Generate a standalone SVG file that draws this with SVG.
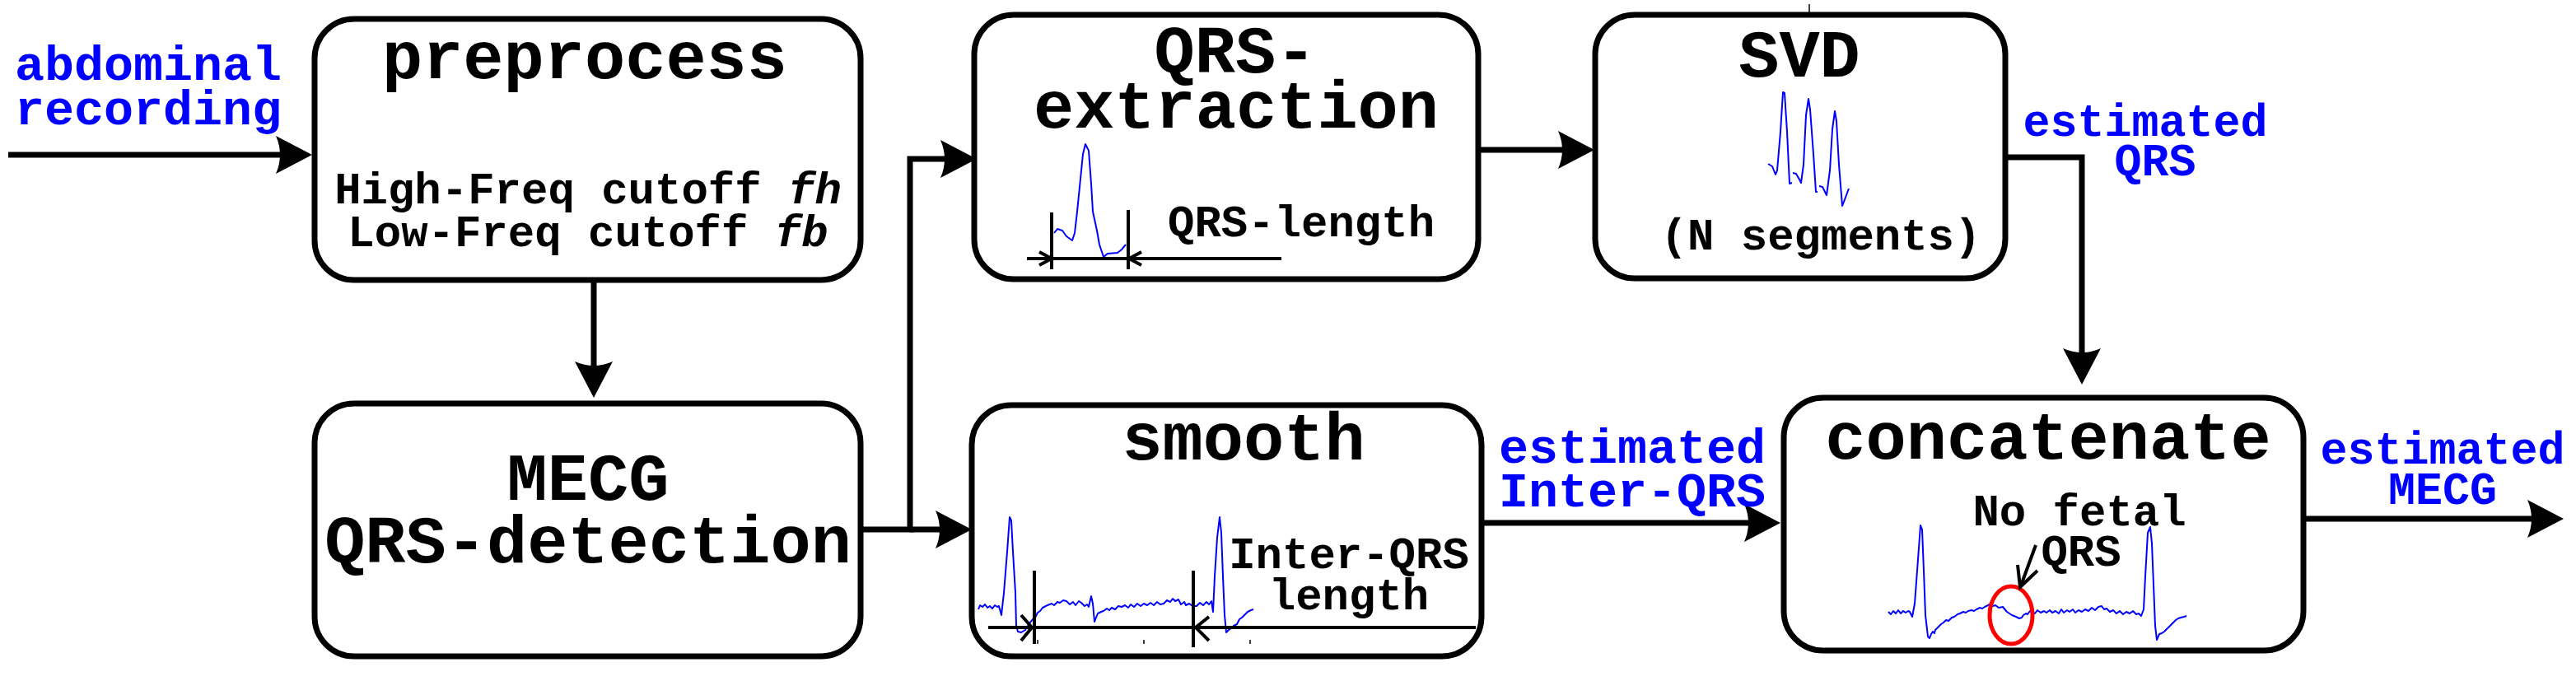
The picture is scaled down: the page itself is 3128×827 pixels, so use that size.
<svg xmlns="http://www.w3.org/2000/svg" width="3128" height="827" viewBox="0 0 3128 827">
<defs>
<style>
.box{fill:#fff;stroke:#000;stroke-width:7}
.con{fill:none;stroke:#000;stroke-width:7;stroke-linejoin:miter}
.title{font-family:"Liberation Mono","Courier New",monospace;font-weight:bold;font-size:82px;fill:#000;text-anchor:middle}
.sub{font-family:"Liberation Mono","Courier New",monospace;font-weight:bold;font-size:54px;fill:#000}
.lbl{font-family:"Liberation Mono","Courier New",monospace;font-weight:bold;fill:#0000ff;text-anchor:middle}
.wave{fill:none;stroke:#0000ff;stroke-width:2;stroke-linejoin:round}
.dim{fill:none;stroke:#000;stroke-width:4}
.tick{fill:none;stroke:#000;stroke-width:1.5}
</style>
<marker id="ah" markerUnits="userSpaceOnUse" markerWidth="80" markerHeight="60" viewBox="-50 -30 80 60" refX="0" refY="0" orient="auto" overflow="visible">
<path d="M20,0 L-24,-23 Q-14,0 -24,23 Z" fill="#000"/>
</marker>
</defs>

<g id="connectors">
<path class="con" d="M10,188 H359" marker-end="url(#ah)"/>
<path class="con" d="M721,340 V463" marker-end="url(#ah)"/>
<path class="con" d="M1045,643 H1105 V193 H1166" marker-end="url(#ah)"/>
<path class="con" d="M1105,643 H1160" marker-end="url(#ah)"/>
<path class="con" d="M1795,182 H1916" marker-end="url(#ah)"/>
<path class="con" d="M2435,191 H2528 V447" marker-end="url(#ah)"/>
<path class="con" d="M1799,635 H2142" marker-end="url(#ah)"/>
<path class="con" d="M2800,630 H3093" marker-end="url(#ah)"/>
<line class="tick" x1="2197" y1="5" x2="2197" y2="16"/>
</g>

<g id="labels">
<text class="lbl" font-size="60" x="180" y="97">abdominal</text>
<text class="lbl" font-size="60" x="180" y="151">recording</text>
<text class="lbl" font-size="55" x="2605" y="165">estimated</text>
<text class="lbl" font-size="55" x="2617" y="213">QRS</text>
<text class="lbl" font-size="60" x="1982" y="562">estimated</text>
<text class="lbl" font-size="60" x="1982" y="615">Inter-QRS</text>
<text class="lbl" font-size="55" x="2966" y="563">estimated</text>
<text class="lbl" font-size="55" x="2966" y="612">MECG</text>
</g>

<g id="preprocess">
<rect class="box" x="382" y="23" width="663" height="317" rx="48" ry="48"/>
<text class="title" x="710" y="95">preprocess</text>
<text class="sub" x="714" y="247" text-anchor="middle">High-Freq cutoff <tspan font-style="italic">fh</tspan></text>
<text class="sub" x="714" y="299" text-anchor="middle">Low-Freq cutoff <tspan font-style="italic">fb</tspan></text>
</g>

<g id="mecg-detection">
<rect class="box" x="382" y="490" width="663" height="307" rx="48" ry="48"/>
<text class="title" x="714" y="607">MECG</text>
<text class="title" x="714" y="683">QRS-detection</text>
</g>

<g id="qrs-extraction">
<rect class="box" x="1183" y="18" width="612" height="321" rx="48" ry="48"/>
<text class="title" x="1500" y="88">QRS-</text>
<text class="title" x="1501" y="155">extraction</text>
<polyline class="wave" points="1280,283 1284,278 1290,280 1295,287 1302,292 1305,283 1308,257 1312,217 1315,187 1318,175 1322,183 1325,223 1327,257 1332,280 1335,297 1340,312 1345,308 1357,307 1362,303 1367,297"/>
<line class="dim" x1="1277" y1="258" x2="1277" y2="327"/>
<line class="dim" x1="1370" y1="255" x2="1370" y2="327"/>
<line class="dim" x1="1247" y1="314" x2="1556" y2="314"/>
<polyline class="dim" points="1262,306 1277,314 1262,322"/>
<polyline class="dim" points="1386,306 1371,314 1386,322"/>
<text class="sub" x="1418" y="287">QRS-length</text>
</g>

<g id="svd">
<rect class="box" x="1937" y="18" width="498" height="320" rx="48" ry="48"/>
<text class="title" x="2185" y="93">SVD</text>
<polyline class="wave" stroke-width="1.6" points="2147,199 2152,202 2156,212 2158,207 2162,160 2165,112 2167,113 2170,160 2173,223 2176,222"/>
<polyline class="wave" stroke-width="1.6" points="2177,210 2181,211 2185,218 2187,222 2190,200 2193,140 2196,120 2198,133 2202,187 2205,233 2207,233"/>
<polyline class="wave" stroke-width="1.6" points="2209,226 2213,227 2218,237 2222,207 2225,157 2228,135 2230,147 2233,200 2237,250 2239,245 2245,229"/>
<text class="sub" x="2211" y="303" text-anchor="middle">(N segments)</text>
</g>

<g id="smooth">
<rect class="box" x="1180" y="492" width="619" height="305" rx="48" ry="48"/>
<text class="title" x="1510" y="558">smooth</text>
<polyline class="wave" points="1188,740 1190,735 1193,737 1196,734 1199,738 1202,736 1205,739 1208,735 1211,737 1213,736 1216,747 1219,720 1223,670 1226,628 1228,632 1230,670 1233,720 1234,760 1236,767 1240,768 1245,765 1250,757 1254,752 1257,750 1260,744 1263,742 1266,738 1268,737 1272,735 1277,733 1280,735 1284,731 1287,732 1291,729 1295,730 1299,734 1303,731 1306,735 1310,730 1313,732 1317,736 1320,734 1322,737 1325,724 1327,733 1329,755 1333,745 1337,743 1340,742 1344,739 1347,741 1350,738 1354,740 1358,736 1362,737 1366,735 1370,738 1373,734 1377,737 1381,733 1385,736 1389,733 1393,735 1397,732 1401,735 1405,731 1409,734 1413,733 1417,729 1421,731 1424,727 1427,730 1431,728 1434,734 1438,731 1440,735 1444,733 1448,736 1453,736 1457,732 1461,735 1465,731 1468,734 1471,730 1473,743 1475,700 1478,653 1481,628 1483,647 1485,700 1487,747 1489,768 1492,765 1495,763 1498,760 1502,758 1505,752 1508,750 1512,746 1515,743 1519,741 1522,740"/>
<line class="dim" x1="1256" y1="693" x2="1256" y2="782"/>
<line class="dim" x1="1449" y1="693" x2="1449" y2="786"/>
<line class="dim" x1="1200" y1="762" x2="1792" y2="762"/>
<polyline class="dim" points="1240,747 1253,762 1240,778"/>
<polyline class="dim" points="1468,749 1452,762 1468,778"/>
<line class="tick" x1="1260" y1="777" x2="1260" y2="782"/>
<line class="tick" x1="1389" y1="777" x2="1389" y2="782"/>
<line class="tick" x1="1518" y1="777" x2="1518" y2="782"/>
<text class="sub" x="1638" y="690" text-anchor="middle">Inter-QRS</text>
<text class="sub" x="1638" y="740" text-anchor="middle">length</text>
</g>

<g id="concatenate">
<rect class="box" x="2166" y="483" width="631" height="307" rx="48" ry="48"/>
<text class="title" x="2487" y="557">concatenate</text>
<polyline class="wave" points="2293,743 2296,746 2299,742 2302,745 2305,741 2308,745 2311,742 2314,744 2317,742 2319,743 2322,749 2325,733 2328,693 2332,638 2334,643 2336,693 2338,747 2341,773 2343,775 2345,770 2347,767 2349,769 2350,765 2353,762 2357,758 2360,756 2363,753 2366,754 2370,750 2373,749 2377,746 2380,745 2384,743 2387,744 2390,742 2394,741 2397,742 2400,740 2404,738 2407,739 2410,737 2414,735 2417,733 2420,736 2423,735 2427,738 2432,737 2437,743 2443,747 2448,749 2452,751 2455,750 2457,747 2460,745 2462,746 2465,742 2467,743 2471,745 2474,741 2478,744 2482,742 2485,744 2489,741 2492,744 2496,742 2500,745 2503,740 2506,744 2510,741 2513,743 2517,740 2520,744 2524,741 2528,743 2532,740 2536,742 2540,738 2544,741 2548,737 2552,736 2555,740 2558,739 2562,743 2566,741 2570,745 2574,742 2578,746 2582,743 2586,745 2590,742 2594,746 2597,745 2600,748 2603,740 2605,700 2608,647 2611,640 2613,660 2615,710 2617,760 2619,777 2622,770 2625,769 2628,767 2632,763 2635,760 2638,757 2642,753 2645,751 2648,750 2652,749 2655,748"/>
<ellipse cx="2442" cy="747" rx="26" ry="35" fill="none" stroke="#ff0000" stroke-width="5"/>
<text class="sub" x="2525" y="638" text-anchor="middle">No fetal</text>
<text class="sub" x="2527" y="687" text-anchor="middle">QRS</text>
<line x1="2472" y1="662" x2="2454" y2="711" stroke="#000" stroke-width="4"/>
<polyline points="2450,686 2453,713 2474,693" fill="none" stroke="#000" stroke-width="4"/>
</g>
</svg>
